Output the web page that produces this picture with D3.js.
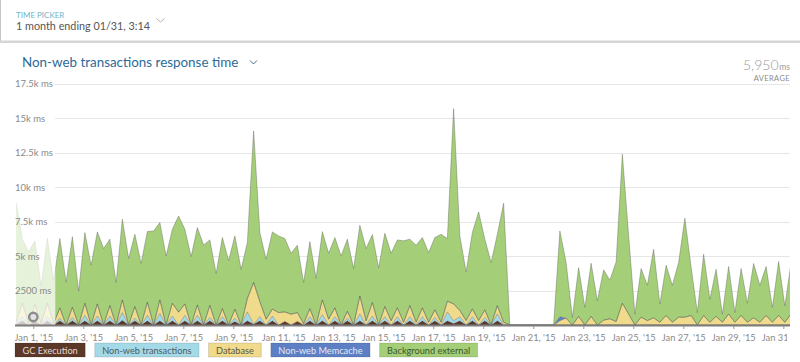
<!DOCTYPE html>
<html>
<head>
<meta charset="utf-8">
<script src="https://cdn.jsdelivr.net/npm/d3@7"></script>
<style>
body { margin: 0; background: #fff; }
svg text { font-family: Lato, "Open Sans", sans-serif; }
</style>
</head>
<body>
<svg id="chart" width="800" height="362"></svg>
<script>
// series, bottom to top
var seriesKeys = ["gc", "txn", "db", "memcache", "external"];
var seriesNames = ["GC Execution", "Non-web transactions", "Database", "Non-web Memcache", "Background external"];
var seriesColors = ["#5b3828", "#a4d9e8", "#f0da8c", "#5d80c4", "#a4cf78"];
var legendTextColors = ["#e6ddd8", "#4b5a60", "#5b563f", "#e3e9f5", "#3c5628"];

// one value every 6 hours, starting Dec 31 07:30
var gcExecution = [50,300,0,300,0,300,0,
  300,0,300,0,
  300,0,300,0,300,0,350,0,300,0,
  300,0,300,0,300,0,300,0,300,0,
  300,0,300,0,250,0,300,50,300,0,
  300,0,250,0,250,0,300,0,300,0,
  300,0,300,0,300,0,300,0,300,0,
  300,0,300,0,300,0,300,0,300,100,
  300,0,300,0,300,0,300,0,
  0,0,0,0,0,0,0,0,
  0,0,0,0,0,0,0,0,0,0, 0,0,0,0,0,0,0,0,0,0, 0,0,0,0,0,0,0,0,0,0, 0,0,0,0,0,0,0,0];

var nonwebTransactions = [50,300,0,200,0,300,0,
  200,0,250,0,
  400,0,350,0,350,0,550,0,200,0,
  400,0,550,0,350,0,400,0,400,0,
  250,0,300,0,250,0,650,0,300,0,
  350,0,0,0,0,0,300,0,450,0,
  300,0,200,0,500,0,350,0,300,0,
  300,0,300,0,300,0,250,0,650,200,
  300,0,300,0,250,0,500,0,
  0,0,0,0,0,0,0,0,
  0,0,0,0,0,0,0,0,0,0, 0,0,0,0,0,0,0,0,0,0, 0,0,0,0,0,0,0,0,0,0, 0,0,0,0,0,0,0,0];

var database = [100,1000,100,1000,100,1000,100,
  740,0,740,0,
  880,0,880,0,760,0,920,0,840,0,
  950,0,970,0,930,930,830,0,750,0,
  880,0,590,0,645,0,970,3030,1100,420,
  500,900,700,780,650,100,590,0,1070,420,
  640,0,500,0,1310,300,980,0,740,300,
  650,200,810,200,640,200,550,200,770,1230,
  450,320,570,320,550,0,610,200,
  0,0,0,0,0,0,0,0,
  300,500,0,620,0,620,0,350,450,250,
  1580,800,0,565,320,520,200,690,200,565,
  565,690,0,690,200,620,200,800,200,690,
  200,520,200,690,200,690,200,800];

var nonwebMemcache = [0,0,0,0,0,0,0,
  0,0,0,0,
  0,0,0,0,0,0,0,0,0,0, 0,0,0,0,0,0,0,0,0,0, 0,0,0,0,0,0,0,0,0,0,
  0,0,0,0,0,0,0,0,0,0, 0,0,0,0,0,0,0,0,0,0, 0,0,0,0,0,0,0,0,0,0,
  0,0,0,0,0,0,0,0,
  0,0,0,0,0,0,0,0,
  300,0,0,0,0,0,0,0,0,0, 0,0,0,0,0,0,0,0,0,0, 0,0,0,0,0,0,0,0,0,0, 0,0,0,0,0,0,0,0];

var backgroundExternal = [8700,4600,5200,4600,2750,4700,3100,
  5030,3100,5110,2450,
  5120,4330,5220,5540,4810,3080,5850,4820,5240,4460,
  5130,6820,5610,5010,5360,6980,5410,4960,5610,5800,
  4740,3730,5150,4670,5315,4040,4060,10990,5000,4350,
  5600,5560,5320,4420,4880,2980,4860,3390,4950,4780,
  5100,5010,5220,4090,5120,5240,4930,4140,5310,4900,
  4920,5900,4810,5580,5100,5050,5240,6380,4550,14160,
  5410,3530,5530,7880,5120,4530,5170,8630,
  0,0,0,0,0,0,0,0,
  6220,4030,540,3540,1270,3860,1750,3650,2800,4320,
  10800,5700,780,3525,2560,4970,1310,3640,2680,3965,
  7175,3510,900,4440,1670,3420,580,3440,700,3400,
  1380,3940,2680,3550,1070,3910,1180,3730];

var yTicks = [2500, 5000, 7500, 10000, 12500, 15000, 17500];
var yTickLabels = ["2500 ms", "5k ms", "7.5k ms", "10k ms", "12.5k ms", "15k ms", "17.5k ms"];
var xTickDays = [1, 3, 5, 7, 9, 11, 13, 15, 17, 19, 21, 23, 25, 27, 29, 31];

var svg = d3.select("#chart");

var start = new Date(2014, 11, 31, 7, 30);
var rows = backgroundExternal.map(function(v, i) {
  return {
    time: d3.timeHour.offset(start, 6 * i),
    gc: gcExecution[i],
    txn: nonwebTransactions[i],
    db: database[i],
    memcache: nonwebMemcache[i],
    external: backgroundExternal[i]
  };
});

var x = d3.scaleTime()
  .domain([new Date(2014, 11, 31, 6, 26), new Date(2015, 0, 31, 6, 26)])
  .range([15, 790]);
var y = d3.scaleLinear().domain([0, 17500]).range([325, 83.6]);

var defs = svg.append("defs");
defs.append("clipPath").attr("id", "plotClip")
  .append("rect").attr("x", 15).attr("y", 0).attr("width", 775).attr("height", 330);
defs.append("clipPath").attr("id", "axisClip")
  .append("rect").attr("x", 0).attr("y", -5).attr("width", 787).attr("height", 30);

// header (time picker)
svg.append("line").attr("x1", 0.5).attr("x2", 0.5).attr("y1", 0).attr("y2", 42)
  .attr("stroke", "#c4c4c4");
svg.append("rect").attr("x", 0).attr("y", 40.5).attr("width", 800).attr("height", 2.5)
  .attr("fill", "#d6d6d6");
svg.append("text").attr("x", 16).attr("y", 17.5).text("TIME PICKER")
  .style("font-size", "8px").attr("fill", "#72b4c6");
svg.append("text").attr("x", 16).attr("y", 30).text("1 month ending 01/31, 3:14")
  .style("font-size", "10.8px").attr("fill", "#555");
svg.append("path").attr("d", "M156.5,18.5 L160.5,22 L164.5,18.5")
  .attr("fill", "none").attr("stroke", "#b0b0b0");

// title + average
svg.append("text").attr("x", 22).attr("y", 67).text("Non-web transactions response time")
  .style("font-size", "13.4px").attr("fill", "#2c6a98");
svg.append("path").attr("d", "M250,60.5 L253.5,64 L257,60.5")
  .attr("fill", "none").attr("stroke", "#3c6c94");
svg.append("text").attr("x", 778.5).attr("y", 70).attr("text-anchor", "end").text("5,950")
  .style("font-size", "14px").style("font-weight", 300).attr("fill", "#9a9a9a");
svg.append("text").attr("x", 790).attr("y", 70).attr("text-anchor", "end").text("ms")
  .style("font-size", "8.5px").attr("fill", "#9a9a9a");
svg.append("text").attr("x", 790).attr("y", 81).attr("text-anchor", "end").text("AVERAGE")
  .style("font-size", "7.5px").style("letter-spacing", "0.4px").attr("fill", "#8a8a8a");

// gridlines
svg.append("g").selectAll("line")
  .data(yTicks)
  .enter().append("line")
  .attr("x1", 55).attr("x2", 790)
  .attr("y1", function(d) { return Math.round(y(d)) + 0.5; })
  .attr("y2", function(d) { return Math.round(y(d)) + 0.5; })
  .attr("stroke", "#e6e6e6");

// stacked areas
var stacked = d3.stack().keys(seriesKeys)(rows);

var area = d3.area()
  .x(function(d) { return x(d.data.time); })
  .y0(function(d) { return y(d[0]); })
  .y1(function(d) { return y(d[1]); });

var topLine = d3.line()
  .x(function(d) { return x(d.data.time); })
  .y(function(d) { return y(d[1]); });

var plot = svg.append("g").attr("clip-path", "url(#plotClip)");

plot.selectAll("path.layer")
  .data(stacked)
  .enter().append("path")
  .attr("class", "layer")
  .attr("d", area)
  .attr("fill", function(d, i) { return seriesColors[i]; });

plot.selectAll("path.edge")
  .data(stacked)
  .enter().append("path")
  .attr("class", "edge")
  .attr("d", topLine)
  .attr("fill", "none")
  .attr("stroke", "rgba(80,80,80,0.45)")
  .attr("stroke-width", 0.8);

// faded start of the range
svg.append("rect").attr("x", 15).attr("y", 83).attr("width", 40.3).attr("height", 242)
  .attr("fill", "#fff").attr("opacity", 0.72);

// baseline
svg.append("line").attr("x1", 15).attr("x2", 790).attr("y1", 325.5).attr("y2", 325.5)
  .attr("stroke", "#7c7c7c").attr("stroke-width", 2);

// event marker
svg.append("circle").attr("cx", 33.3).attr("cy", 317).attr("r", 4.2)
  .attr("fill", "#e2e2e2").attr("stroke", "#8c8c8c").attr("stroke-width", 2.4);

// y labels
svg.append("g").selectAll("text")
  .data(yTicks)
  .enter().append("text")
  .attr("x", 15)
  .attr("y", function(d) { return y(d) + 3.5; })
  .style("font-size", "9.5px")
  .attr("fill", "#8a8a8a")
  .text(function(d, i) { return yTickLabels[i]; });

// x axis
var xAxis = d3.axisBottom(x)
  .tickValues(xTickDays.map(function(d) { return new Date(2015, 0, d); }))
  .tickFormat(d3.timeFormat("%b %-d, '%y"))
  .tickSize(3)
  .tickPadding(5);

var xg = svg.append("g")
  .attr("transform", "translate(0,326)")
  .attr("clip-path", "url(#axisClip)")
  .call(xAxis);
xg.select(".domain").remove();
xg.selectAll(".tick line").attr("stroke", "#999");
xg.selectAll(".tick text")
  .style("font-size", "9.3px")
  .style("font-family", "Lato, 'Open Sans', sans-serif")
  .attr("fill", "#8a8a8a");

// legend
var legend = svg.append("g").attr("transform", "translate(15,343)");
var lx = 0;
seriesNames.forEach(function(name, i) {
  var g = legend.append("g").attr("transform", "translate(" + lx + ",0)");
  var box = g.append("rect").attr("height", 14).attr("fill", seriesColors[i])
    .attr("stroke", "rgba(0,0,0,0.12)");
  var t = g.append("text").attr("y", 10.5).text(name)
    .style("font-size", "9.2px").attr("fill", legendTextColors[i]);
  var w = t.node().getComputedTextLength() + 15;
  box.attr("width", w);
  t.attr("x", w / 2).attr("text-anchor", "middle");
  lx += w + 9.5;
});
</script>
</body>
</html>
